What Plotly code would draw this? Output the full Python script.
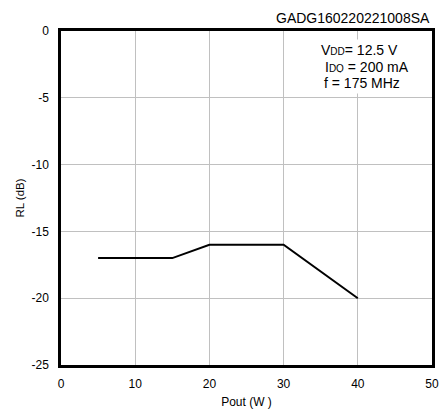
import plotly.graph_objects as go

pout = [5, 15, 20, 30, 40]
rl = [-17, -17, -16, -16, -20]
x_ticks = [0, 10, 20, 30, 40, 50]
y_ticks = [0, -5, -10, -15, -20, -25]
y_tick_text = ["0", "-5", "-10", "-15", "-20", "-25"]
chart_id = "GADG160220221008SA"
cond_lines = [
    "V<span style='font-size:10px'>DD</span>= 12.5 V",
    "I<span style='font-size:10px'>DQ</span> = 200 mA",
    "f = 175 MHz",
]

fig = go.Figure()
fig.add_trace(go.Scatter(x=pout, y=rl, mode="lines",
                         line=dict(color="black", width=2), showlegend=False))

FAM = "Liberation Sans, Arial"
tickfont = dict(family=FAM, size=12, color="black")
fig.update_layout(
    width=445, height=414,
    margin=dict(l=61, r=6, t=31, b=48),
    paper_bgcolor="white", plot_bgcolor="white",
    font=tickfont,
    xaxis=dict(range=[0, 50], tickvals=x_ticks, showgrid=True, gridcolor="#c0c0c0", gridwidth=1,
               showline=True, linecolor="black", linewidth=2.5, mirror=True, zeroline=False,
               ticks="", ticklen=0, tickfont=tickfont, ticklabelstandoff=6,
               title=dict(text="Pout (W )", font=dict(family=FAM, size=12, color="black"), standoff=8)),
    yaxis=dict(range=[-25, 0], tickvals=y_ticks, ticktext=y_tick_text,
               showgrid=True, gridcolor="#c0c0c0", gridwidth=1,
               showline=True, linecolor="black", linewidth=2.5, mirror=True, zeroline=False,
               ticks="", ticklen=0, tickfont=tickfont, ticklabelstandoff=7,
               title=dict(text="RL (dB)", font=dict(family=FAM, size=11.5, color="black"), standoff=5)),
)

ann = [dict(text=chart_id, xref="paper", yref="paper", x=1.0, y=1.0,
            xanchor="right", yanchor="bottom", yshift=3, showarrow=False,
            font=dict(family=FAM, size=14, color="black"))]
line_x = [0.6935, 0.704, 0.702]
line_y = [0.943, 0.8925, 0.845]
for t, lx, ly in zip(cond_lines, line_x, line_y):
    ann.append(dict(text=t, xref="paper", yref="paper", x=lx, y=ly,
                    xanchor="left", yanchor="middle", showarrow=False,
                    bgcolor="white", borderpad=2,
                    font=dict(family=FAM, size=14, color="black")))
fig.update_layout(annotations=ann)
fig.write_html("out.html")
